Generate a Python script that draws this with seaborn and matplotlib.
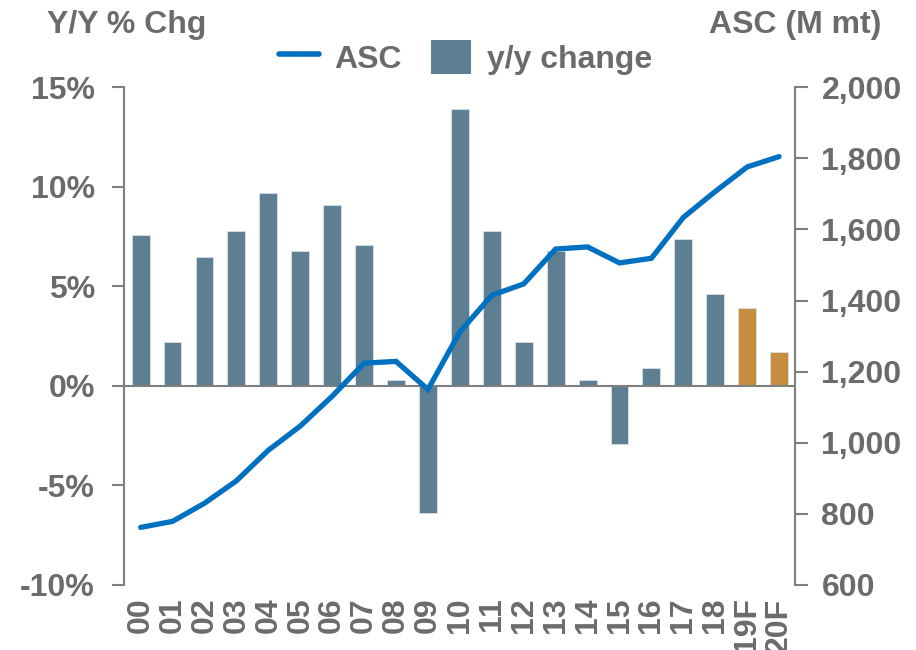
import numpy as np
import pandas as pd
import matplotlib
matplotlib.use("Agg")
import matplotlib.pyplot as plt
from matplotlib.lines import Line2D
from matplotlib.patches import Patch
import seaborn as sns

years = ["00", "01", "02", "03", "04", "05", "06", "07", "08", "09", "10",
         "11", "12", "13", "14", "15", "16", "17", "18", "19F", "20F"]
yoy_change = [7.6, 2.2, 6.5, 7.8, 9.7, 6.8, 9.1, 7.1, 0.3, -6.4, 13.9,
              7.8, 2.2, 6.8, 0.3, -2.9, 0.9, 7.4, 4.6, 3.9, 1.7]
asc = [762, 779, 830, 893, 979, 1047, 1131, 1224, 1229, 1150, 1312,
       1415, 1447, 1545, 1551, 1506, 1519, 1634, 1707, 1776, 1805]
left_ticks = [-10, -5, 0, 5, 10, 15]
right_ticks = [600, 800, 1000, 1200, 1400, 1600, 1800, 2000]

BAR = "#5E7F92"
FCST = "#C68D40"
LINE = "#0070C0"
GREY = "#6B6B6B"
AXIS = "#7F7F7F"
FS = 23

sns.set_theme(style="white")
plt.rcParams["font.family"] = ["Liberation Sans", "DejaVu Sans"]
plt.rcParams["font.weight"] = "bold"

df = pd.DataFrame({"year": years, "yoy": yoy_change, "asc": asc})
palette = [FCST if y.endswith("F") else BAR for y in years]

fig = plt.figure(figsize=(9.16, 6.5), dpi=100)
ax = fig.add_axes([0.1354, 0.1, 0.7326, 0.7657])

sns.barplot(data=df, x="year", y="yoy", hue="year", palette=palette,
            legend=False, width=0.56, saturation=1, edgecolor="#D9E1E6",
            linewidth=0.6, ax=ax)
ax.set_xlim(-0.52, 20.5)
ax.set_ylim(-10, 15)
ax.set_yticks(left_ticks)
ax.set_yticklabels([f"{t}%" for t in left_ticks])
ax.axhline(0, color=AXIS, lw=1.5, zorder=3)
ax.set_xlabel("")
ax.set_ylabel("")

ax2 = ax.twinx()
sns.lineplot(x=np.arange(len(years)), y=df["asc"], color=LINE, lw=3.8,
             solid_capstyle="round", solid_joinstyle="miter", ax=ax2)
ax2.set_ylim(600, 2000)
ax2.set_yticks(right_ticks)
ax2.set_yticklabels([f"{t:,}" for t in right_ticks])
ax2.set_ylabel("")

for a in (ax, ax2):
    for s in ("top", "bottom"):
        a.spines[s].set_visible(False)
    a.grid(False)
ax.spines["right"].set_visible(False)
ax2.spines["left"].set_visible(False)
ax.spines["left"].set_color(AXIS)
ax.spines["left"].set_linewidth(1.5)
ax2.spines["right"].set_color(AXIS)
ax2.spines["right"].set_linewidth(1.5)

ax.tick_params(axis="y", which="major", direction="out", length=9, width=1.5,
               color=AXIS, labelsize=FS, labelcolor=GREY, pad=12, left=True)
ax2.tick_params(axis="y", which="major", direction="out", length=9, width=1.5,
                color=AXIS, labelsize=FS, labelcolor=GREY, pad=10, right=True)
ax.tick_params(axis="x", length=0, labelsize=FS, labelcolor=GREY, pad=9,
               rotation=90)
for lbl in ax.get_xticklabels() + ax.get_yticklabels() + ax2.get_yticklabels():
    lbl.set_fontweight("bold")

fig.text(0.051, 0.962, "Y/Y % Chg", fontsize=FS, fontweight="bold",
         color=GREY, ha="left", va="center")
fig.text(0.962, 0.962, "ASC (M mt)", fontsize=FS, fontweight="bold",
         color=GREY, ha="right", va="center")

handles = [Line2D([0], [0], color=LINE, lw=4, solid_capstyle="round"),
           Patch(facecolor=BAR, edgecolor="none")]
leg = fig.legend(handles, ["ASC", "y/y change"], loc="center",
                 bbox_to_anchor=(0.508, 0.912), ncol=2, frameon=False,
                 prop={"size": FS, "weight": "bold"}, handlelength=1.25,
                 handleheight=1.3, handletextpad=0.5, columnspacing=0.9)
for t in leg.get_texts():
    t.set_color(GREY)

fig.savefig("out.png", dpi=100)
